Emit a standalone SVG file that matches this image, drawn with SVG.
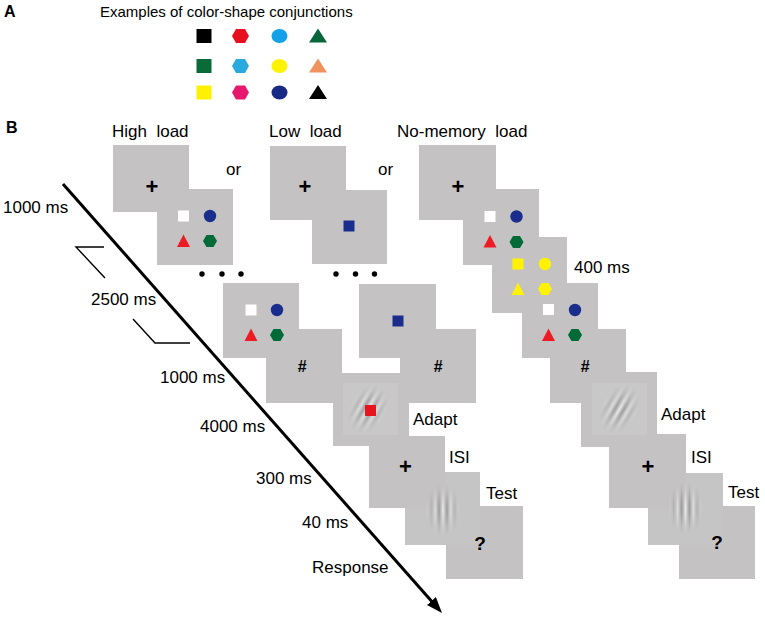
<svg xmlns="http://www.w3.org/2000/svg" xmlns:xlink="http://www.w3.org/1999/xlink" width="765" height="618" viewBox="0 0 765 618">
<style>
.panel{fill:#c4c2c2}
.tpanel{fill:#c6c5c5}
.patch{fill:#c9c8c8}
.lbl{font-family:"Liberation Sans",Arial,sans-serif;font-size:17px;fill:#000;white-space:pre}
.ttl{font-family:"Liberation Sans",Arial,sans-serif;font-size:15px;fill:#000}
.let{font-family:"Liberation Sans",Arial,sans-serif;font-size:16px;font-weight:bold;fill:#000}
.plus{font-family:"Liberation Sans",Arial,sans-serif;font-size:22px;font-weight:bold;text-anchor:middle;fill:#000}
.hash{font-family:"Liberation Sans",Arial,sans-serif;font-size:16px;font-weight:bold;font-style:italic;text-anchor:middle;fill:#000}
.q{font-family:"Liberation Sans",Arial,sans-serif;font-size:19px;font-weight:bold;text-anchor:middle;fill:#000}
.conn{stroke:#000;fill:none}
</style>
<defs>
<rect id="sqL" x="-7.5" y="-7" width="15" height="14"/>
<polygon id="hexL" points="-8.5,0 -4.5,-7 4.5,-7 8.5,0 4.5,7 -4.5,7"/>
<ellipse id="cirL" rx="8" ry="7"/>
<polygon id="triL" points="0,-7.5 9,6.5 -9,6.5"/>
<rect id="sqS" x="-5.5" y="-5.5" width="11" height="11"/>
<circle id="cirS" r="6.2"/>
<polygon id="triS" points="0,-6.5 6.5,6 -6.5,6"/>
<polygon id="hexS" points="-7,0 -3.5,-6 3.5,-6 7,0 3.5,6 -3.5,6"/>
<linearGradient id="stripe" gradientUnits="userSpaceOnUse" x1="-4" y1="0" x2="4" y2="0" spreadMethod="repeat">
<stop offset="0" stop-color="#8c8c8c"/><stop offset="0.5" stop-color="#efefef"/><stop offset="1" stop-color="#8c8c8c"/>
</linearGradient>
<radialGradient id="env" cx="0.5" cy="0.5" r="0.5">
<stop offset="0" stop-color="#fff" stop-opacity="0.9"/>
<stop offset="0.4" stop-color="#fff" stop-opacity="0.55"/>
<stop offset="0.7" stop-color="#fff" stop-opacity="0.2"/>
<stop offset="1" stop-color="#fff" stop-opacity="0"/>
</radialGradient>
<mask id="envmask" maskUnits="userSpaceOnUse" maskContentUnits="userSpaceOnUse" x="-40" y="-40" width="80" height="80">
<ellipse rx="19" ry="26" fill="url(#env)"/>
</mask>
<marker id="ah" viewBox="0 0 10 10" refX="5" refY="5" markerWidth="16" markerHeight="12" markerUnits="userSpaceOnUse" orient="auto" preserveAspectRatio="none">
<path d="M0,0 L10,5 L0,10 z" fill="#000"/>
</marker>
</defs>

<!-- Panel A -->
<g id="labelA"><text class="let" x="4" y="17">A</text></g>
<g id="titleA"><text class="ttl" x="100" y="17">Examples of color-shape conjunctions</text></g>
<g id="examples">
<use href="#sqL" x="204" y="36" fill="#000"/>
<use href="#hexL" x="240.5" y="36" fill="#e8101e"/>
<use href="#cirL" x="279.5" y="36" fill="#12a0e6"/>
<use href="#triL" x="318" y="36" fill="#06663a"/>
<use href="#sqL" x="204" y="66" fill="#0a6b38"/>
<use href="#hexL" x="240.5" y="66" fill="#2aa8e0"/>
<use href="#cirL" x="279.5" y="66" fill="#fff200"/>
<use href="#triL" x="318" y="66" fill="#f0925e"/>
<use href="#sqL" x="204" y="92.5" fill="#fff200"/>
<use href="#hexL" x="240.5" y="92.5" fill="#e8186e"/>
<use href="#cirL" x="279.5" y="92.5" fill="#172b86"/>
<use href="#triL" x="318" y="92.5" fill="#000"/>
</g>

<!-- Panel B labels -->
<g id="labelB"><text class="let" x="6" y="133">B</text></g>
<g id="titles">
<text class="lbl" x="112" y="137" xml:space="preserve">High  load</text>
<text class="lbl" x="269" y="137" xml:space="preserve">Low  load</text>
<text class="lbl" x="397" y="137" xml:space="preserve">No-memory  load</text>
<text class="lbl" x="226" y="175">or</text>
<text class="lbl" x="378" y="175">or</text>
</g>

<!-- High load top -->
<g id="hl-fix"><rect class="panel" x="113" y="145" width="76" height="67"/><text class="plus" x="152" y="193.5">+</text></g>
<g id="hl-mem"><path class="panel" d="M189,189 H233 V265 H157 V212 H189 Z"/>
<use href="#sqS" x="183.5" y="216" fill="#fff"/><use href="#cirS" x="210" y="216" fill="#1a2d8c"/>
<use href="#triS" x="183.5" y="241" fill="#ed1c24"/><use href="#hexS" x="210" y="241" fill="#006b36"/></g>
<g id="hl-dots" fill="#000"><circle cx="202" cy="274" r="2.7"/><circle cx="222" cy="274" r="2.7"/><circle cx="241" cy="274" r="2.7"/></g>

<!-- Low load top -->
<g id="ll-fix"><rect class="panel" x="270" y="146" width="76" height="74"/><text class="plus" x="305" y="193.5">+</text></g>
<g id="ll-mem"><path class="panel" d="M346,190 H387 V264 H312 V220 H346 Z"/><use href="#sqS" x="349" y="226" fill="#1a2d8c"/></g>
<g id="ll-dots" fill="#000"><circle cx="336" cy="274" r="2.7"/><circle cx="355.5" cy="274" r="2.7"/><circle cx="374.5" cy="274" r="2.7"/></g>

<!-- No-memory column -->
<g id="nm-fix"><rect class="panel" x="419" y="145" width="77" height="75"/><text class="plus" x="458" y="193.5">+</text></g>
<g id="nm-mem1"><path class="panel" d="M496,189 H539 V265 H463 V220 H496 Z"/>
<use href="#sqS" x="490" y="216.5" fill="#fff"/><use href="#cirS" x="516.5" y="216.5" fill="#1a2d8c"/>
<use href="#triS" x="490" y="241.5" fill="#ed1c24"/><use href="#hexS" x="516.5" y="242" fill="#006b36"/></g>
<g id="nm-dist"><path class="panel" d="M539,237 H567 V313 H492 V265 H539 Z"/>
<use href="#sqS" x="518" y="264" fill="#fff200"/><use href="#cirS" x="545" y="264" fill="#fff200"/>
<use href="#triS" x="518" y="289" fill="#fff200"/><use href="#hexS" x="545" y="289" fill="#fff200"/></g>
<g id="nm-mem2"><path class="panel" d="M567,283 H598 V358 H522 V313 H567 Z"/>
<use href="#sqS" x="548.5" y="309.5" fill="#fff"/><use href="#cirS" x="575" y="310" fill="#1a2d8c"/>
<use href="#triS" x="548.5" y="335" fill="#ed1c24"/><use href="#hexS" x="575" y="335" fill="#006b36"/></g>
<g id="nm-hash"><path class="panel" d="M598,329 H626 V403 H550 V358 H598 Z"/><text class="hash" x="585" y="372">#</text></g>
<g id="nm-adapt"><path class="panel" d="M626,372 H657 V447 H581 V403 H626 Z"/><rect class="patch" x="592" y="383" width="55" height="52"/>
<g transform="translate(619.5,409) rotate(30)"><rect x="-32" y="-32" width="64" height="64" fill="url(#stripe)" mask="url(#envmask)"/></g></g>
<g id="nm-isi"><path class="panel" d="M657,434 H686 V508 H609 V447 H657 Z"/><text class="plus" x="648" y="474">+</text></g>
<g id="nm-test"><path class="tpanel" d="M686,473 H723 V545 H648 V508 H686 Z"/>
<g transform="translate(685.5,508)"><rect x="-32" y="-32" width="64" height="64" fill="url(#stripe)" mask="url(#envmask)"/></g></g>
<g id="nm-resp"><path class="panel" d="M723,506 H755 V579 H679 V545 H723 Z"/><text class="q" x="717" y="549">?</text></g>
<g id="nm-400"><text class="lbl" x="574" y="273">400 ms</text></g>

<!-- Left sequence -->
<g id="hl-mem-r"><rect class="panel" x="223" y="283" width="76" height="75"/>
<use href="#sqS" x="251" y="310" fill="#fff"/><use href="#cirS" x="277" y="310" fill="#1a2d8c"/>
<use href="#triS" x="251" y="335" fill="#ed1c24"/><use href="#hexS" x="277" y="335" fill="#006b36"/></g>
<g id="hl-hash"><path class="panel" d="M299,329 H342 V403 H266 V358 H299 Z"/><text class="hash" x="302" y="372">#</text></g>
<g id="ll-mem-r"><rect class="panel" x="359" y="284" width="77" height="74"/><use href="#sqS" x="398" y="321" fill="#1a2d8c"/></g>
<g id="ll-hash"><path class="panel" d="M436,329 H476 V403 H400 V358 H436 Z"/><text class="hash" x="438" y="372">#</text></g>
<g id="adapt"><rect class="panel" x="333" y="373" width="76" height="73"/><rect class="patch" x="343" y="383" width="55" height="52"/>
<g transform="translate(368,409) rotate(30)"><rect x="-32" y="-32" width="64" height="64" fill="url(#stripe)" mask="url(#envmask)"/></g>
<rect x="365" y="405" width="11" height="11" fill="#e8141c"/></g>
<g id="isi"><path class="panel" d="M409,436 H445 V508 H369 V446 H409 Z"/><text class="plus" x="405.5" y="474">+</text></g>
<g id="test"><path class="tpanel" d="M445,472 H480 V545 H405 V508 H445 Z"/>
<g transform="translate(443,510)"><rect x="-32" y="-32" width="64" height="64" fill="url(#stripe)" mask="url(#envmask)"/></g></g>
<g id="resp"><path class="panel" d="M480,506 H523 V579 H446 V545 H480 Z"/><text class="q" x="480" y="550">?</text></g>

<g id="stage-labels">
<text class="lbl" x="413" y="425">Adapt</text>
<text class="lbl" x="449" y="463">ISI</text>
<text class="lbl" x="486" y="499">Test</text>
<text class="lbl" x="661" y="420">Adapt</text>
<text class="lbl" x="691" y="463">ISI</text>
<text class="lbl" x="728" y="498">Test</text>
</g>

<g id="time-labels">
<text class="lbl" x="3" y="213">1000 ms</text>
<text class="lbl" x="91" y="305">2500 ms</text>
<text class="lbl" x="160" y="383">1000 ms</text>
<text class="lbl" x="200" y="432">4000 ms</text>
<text class="lbl" x="256" y="484">300 ms</text>
<text class="lbl" x="302" y="528">40 ms</text>
<text class="lbl" x="312" y="573">Response</text>
</g>

<g id="connectors">
<line class="conn" x1="63" y1="184" x2="436.7" y2="607" stroke-width="3" marker-end="url(#ah)"/>
<polyline class="conn" points="104,247 76,247 105,278" stroke-width="1.4"/>
<polyline class="conn" points="133,319 155,343 190,343" stroke-width="1.4"/>
</g>
</svg>
